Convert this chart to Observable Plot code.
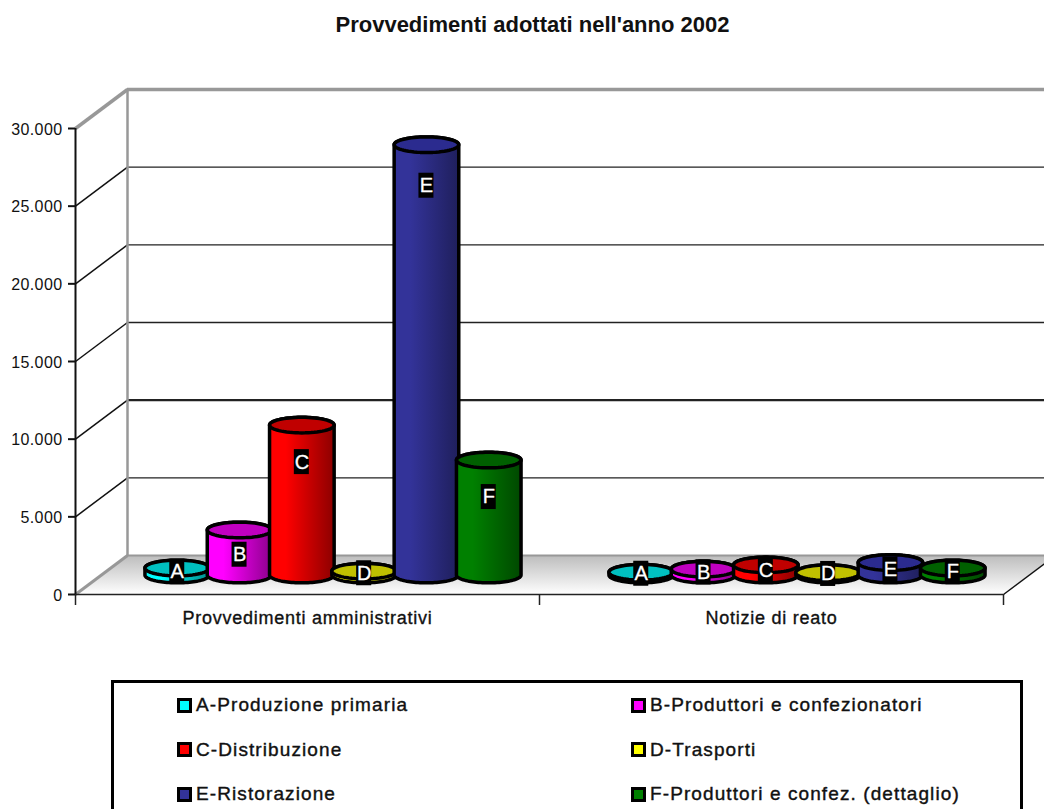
<!DOCTYPE html>
<html lang="it">
<head>
<meta charset="utf-8">
<title>Provvedimenti adottati nell'anno 2002</title>
<script src="https://cdn.jsdelivr.net/npm/d3@7"></script>
<script src="https://cdn.jsdelivr.net/npm/@observablehq/plot@0.6"></script>
<style>
  html, body { margin: 0; padding: 0; background: #fff; width: 1044px; height: 809px; overflow: hidden; }
  body { font-family: "Liberation Sans", Arial, sans-serif; color: #111; }
  #title { height: 52px; line-height: 50px; text-align: center; font-size: 22px; font-weight: bold; padding-left: 21px; box-sizing: border-box; }
  #chart svg { display: block; }
  #legend {
    position: absolute; left: 111px; top: 680px; width: 912px; height: 160px; box-sizing: border-box;
    border: 3px solid #000; display: grid; grid-template-columns: 454px 1fr; grid-auto-rows: 44.5px;
    padding: 0 0 0 63px; font-size: 19px;
  }
  #legend div { display: flex; align-items: center; gap: 4px; -webkit-text-stroke: 0.4px #111; letter-spacing: 1.1px; }
  #legend i { width: 9px; height: 9px; border: 3px solid #000; display: block; flex: none; }
  .group-label text { letter-spacing: 0.75px; }
  .value-axis text { letter-spacing: 0.4px; }
</style>
</head>
<body>
<div id="title">Provvedimenti adottati nell'anno 2002</div>
<div id="chart"></div>
<div id="legend"></div>
<script>
// Sectors shown in each cluster of cylinders
const codes = ["A", "B", "C", "D", "E", "F"];
const sectorNames = [
  "A-Produzione primaria", "B-Produttori e confezionatori",
  "C-Distribuzione", "D-Trasporti",
  "E-Ristorazione", "F-Produttori e confez. (dettaglio)"
];
const groups = ["Provvedimenti amministrativi", "Notizie di reato"];

// Number of measures per sector
const amministrativi = [450, 2900, 9650, 250, 27700, 7400];
const notizie = [180, 380, 650, 150, 800, 450];

// Palette per sector: side colour, darker top, shaded edge of the side
const sideColors = ["#00ffff", "#ff00ff", "#ff0000", "#ffff00", "#333399", "#008000"];
const topColors = ["#00c0c0", "#c000c0", "#c00000", "#c0c000", "#2b2b8f", "#006000"];
const edgeColors = ["#008c8c", "#8c008c", "#8c0000", "#8c8c00", "#1f1f5c", "#004800"];

const yTicks = [0, 5000, 10000, 15000, 20000, 25000, 30000];
const groupEdges = [0, 1, 2];

// Plot frame, with a fake depth expressed in scale units
const xRange = [75, 1003];
const yRange = [542, 76];
const yMax = 30000;
const perPxX = 2 / (xRange[1] - xRange[0]);
const perPxY = yMax / (yRange[0] - yRange[1]);
const depthX = 52 * perPxX;
const depthY = 39 * perPxY;
const step = 62.3 * perPxX;
const rx = 32.3 * perPxX;
const ry = 7.8 * perPxY;
const xEnd = 2 + depthX;

const bars = [amministrativi, notizie].flatMap((values, g) =>
  values.map((value, i) => ({
    i, code: codes[i], value,
    cx: g + 0.5 + (depthX - perPxX) / 2 + (i - 2.5) * step,
    base: depthY / 2,
    top: depthY / 2 + value
  }))
);

const arc = (cx, cy, from, to, n = 48) =>
  d3.range(n + 1).map(k => {
    const a = from + (to - from) * k / n;
    return {x: cx + rx * Math.cos(a), y: cy + ry * Math.sin(a)};
  });

// Outline of a cylinder: back of the top, one side, front of the base, other side.
// The y scale grows upward, so the visible front of the base has negative sine.
const outline = b => [
  ...arc(b.cx, b.top, 0, Math.PI),
  ...arc(b.cx, b.base, Math.PI, 2 * Math.PI),
  {x: b.cx + rx, y: b.top}
];
const cap = b => arc(b.cx, b.top, 0, 2 * Math.PI, 64);

const gradientDefs = () => {
  const defs = d3.create("svg:defs");
  codes.forEach((c, i) => {
    const g = defs.append("linearGradient").attr("id", `side-${c}`);
    g.append("stop").attr("offset", "0").attr("stop-color", sideColors[i]);
    g.append("stop").attr("offset", "0.25").attr("stop-color", sideColors[i]);
    g.append("stop").attr("offset", "1").attr("stop-color", edgeColors[i]);
  });
  const f = defs.append("linearGradient").attr("id", "floor")
    .attr("x1", 0).attr("x2", 0).attr("y1", 0).attr("y2", 1);
  f.append("stop").attr("offset", "0").attr("stop-color", "#bdbdbd");
  f.append("stop").attr("offset", "1").attr("stop-color", "#ffffff");
  return defs.node();
};

const floorShape = [
  {x: 0, y: 0}, {x: 2, y: 0}, {x: xEnd, y: depthY}, {x: depthX, y: depthY}, {x: 0, y: 0}
];
const grey = "#989898";
const formatValue = d => d3.format(",")(d).replace(",", ".");

// Tags sit inside the cylinder, near its top
const labelY = b => {
  const h = b.value / perPxY;
  return b.top - (Math.min(37, 0.55 * h) + Math.max(0, h - 150) / 70) * perPxY;
};

const chart = Plot.plot({
  width: 1044,
  height: 590,
  marginLeft: 75,
  marginRight: 41,
  marginTop: 0,
  marginBottom: 0,
  style: {background: "transparent", overflow: "hidden"},
  x: {domain: [0, 2], range: xRange, axis: null},
  y: {domain: [0, yMax], range: yRange, axis: null},
  marks: [
    gradientDefs,
    // Floor and walls
    Plot.line(floorShape, {x: "x", y: "y", fill: "url(#floor)", stroke: "none"}),
    // Back wall grid
    Plot.ruleY(yTicks.slice(1, -1), {
      x1: depthX, x2: xEnd, y: d => d + depthY, stroke: "#222",
      strokeWidth: d => d === 10000 ? 2.2 : 1.3
    }),
    // Side wall grid
    Plot.link(yTicks.slice(1, -1), {
      x1: 0, x2: depthX, y1: d => d, y2: d => d + depthY, stroke: "#111", strokeWidth: 1.5
    }),
    Plot.ruleY([yMax + depthY], {x1: depthX, x2: xEnd, stroke: grey, strokeWidth: 3.5}),
    Plot.ruleY([depthY], {x1: depthX, x2: xEnd, stroke: grey, strokeWidth: 2}),
    Plot.ruleX([depthX], {y1: depthY, y2: yMax + depthY, stroke: grey, strokeWidth: 2.5}),
    Plot.link([yMax, 0], {
      x1: 0, x2: depthX, y1: d => d, y2: d => d + depthY, stroke: grey,
      strokeWidth: d => d ? 3.5 : 3
    }),
    // Front edge, right floor edge and category ticks
    Plot.ruleX([0], {y1: 0, y2: yMax, stroke: "#111", strokeWidth: 2}),
    Plot.ruleY([0], {x1: 0, x2: 2, stroke: "#222", strokeWidth: 1.6}),
    Plot.link([2], {x1: 2, x2: xEnd, y1: 0, y2: depthY, stroke: "#111", strokeWidth: 1.5}),
    Plot.ruleX(groupEdges, {y1: 0, y2: -11 * perPxY, stroke: "#222", strokeWidth: 1.5}),
    // Cylinders, drawn left to right so that later ones overlap earlier ones
    ...bars.flatMap(b => [
      Plot.line(outline(b), {
        x: "x", y: "y", fill: `url(#side-${b.code})`, stroke: "#000",
        strokeWidth: 3.5, strokeLinejoin: "round"
      }),
      Plot.line(cap(b), {
        x: "x", y: "y", fill: topColors[b.i], stroke: "#000",
        strokeWidth: 3.5, strokeLinejoin: "round"
      })
    ]),
    // Value tags
    Plot.rect(bars, {
      x1: d => d.cx - 7.5 * perPxX, x2: d => d.cx + 7.5 * perPxX,
      y1: d => labelY(d) - 12.5 * perPxY, y2: d => labelY(d) + 12.5 * perPxY,
      fill: "#000", inset: 0
    }),
    Plot.text(bars, {
      x: "cx", y: labelY, text: "code", fill: "#fff", stroke: "#fff", strokeWidth: 0.3,
      fontSize: 20, fontFamily: "Liberation Sans", textAnchor: "middle"
    }),
    // Axes: tick marks first, then the labels a pixel lower
    Plot.axisY({
      ticks: yTicks, tickSize: 7, anchor: "left", label: null, strokeWidth: 2,
      tickFormat: () => ""
    }),
    Plot.axisY({
      ticks: yTicks, tickSize: 0, tickPadding: 13, dy: 1, anchor: "left", label: null,
      tickFormat: formatValue, className: "value-axis",
      fontSize: 16, fontFamily: "Liberation Sans", fill: "#111", stroke: "#111", strokeWidth: 0.35
    }),
    Plot.text(groups, {
      x: (d, i) => i + 0.5, y: -24 * perPxY, text: d => d, fontSize: 18,
      className: "group-label", fontFamily: "Liberation Sans", fill: "#111",
      strokeWidth: 0.35, stroke: "#111"
    })
  ]
});
document.getElementById("chart").append(chart);

// Legend, laid out in two columns below the plot
const legend = d3.select("#legend");
sectorNames.forEach((name, i) => {
  const row = legend.append("div");
  row.append("i").style("background", sideColors[i]);
  row.append("span").text(name);
});
</script>
</body>
</html>
